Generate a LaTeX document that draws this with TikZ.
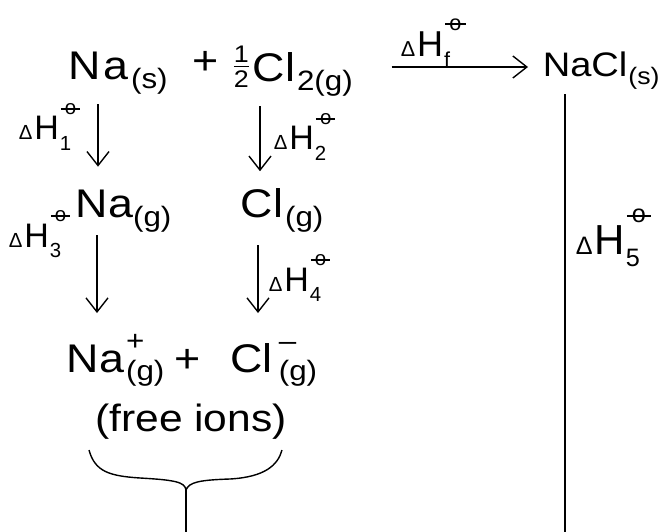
\documentclass[tikz,border=0pt]{standalone}
\usepackage{graphicx}
\usepackage{fontspec}
\setmainfont{Liberation Sans}[FakeStretch=1.12]
\newfontfamily\lbfont{Liberation Sans}
\usetikzlibrary{arrows.meta}
\newcommand\sbs[1]{\raisebox{-0.22em}{\scalebox{0.7}{#1}}}
\newcommand\lsub[1]{\raisebox{-0.3em}{\scalebox{0.6}{#1}}}
\newcommand\plim{\ooalign{\hfil o\hfil\cr\hfil\rule[0.25em]{0.95em}{0.07em}\hfil\cr}}
\newcommand\ssup[2]{\rlap{\raisebox{0.55em}{\scalebox{0.7}{#1}}}\sbs{#2}}
\newcommand\dH[1]{\scalebox{0.6}{Δ}\kern2pt H\kern1pt\rlap{\kern1pt\raisebox{0.74em}{\scalebox{0.6}{\plim}}}\lsub{#1}}
\newcommand\half{\raisebox{-0.14em}{\scalebox{0.6}{\shortstack{1\\[3pt]\rule{0.62em}{2.4pt}\\[3pt]2}}}}
\begin{document}
\begin{tikzpicture}[x=1pt,y=-1pt,line width=1.6pt,
  sp/.style={font=\fontsize{40}{48}\selectfont, inner sep=0pt},
  lb/.style={font=\lbfont\fontsize{34}{40}\selectfont, inner sep=0pt},
  arr/.style={-{Straight Barb[length=14pt,width=22pt,line width=1.4pt]}}]
\fill[white] (0,0) rectangle (667,532);
\useasboundingbox (0,0) rectangle (667,532);
% species
\node[sp,anchor=base west] (nas) at (68,80) {N\kern2pt a\kern3pt\sbs{(s)}};
\node[sp] (plus1) at (206,63) {+};
\node[sp,anchor=base west] (cl2) at (233,82) {\half\kern4pt Cl\kern2pt\sbs{2(g)}};
\node[sp,font=\fontsize{34}{40}\selectfont,anchor=base west] (nacl) at (542,77) {NaCl\kern1pt\sbs{(s)}};
\node[sp,anchor=base west] (nag) at (75,218) {Na\sbs{(g)}};
\node[sp,anchor=base west] (clg) at (240,218) {Cl\kern2pt\sbs{(g)}};
\node[sp,anchor=base west] (ions) at (66,372) {Na\kern2pt\ssup{+}{(g)}\hspace{10pt}+\hspace{30pt}Cl\kern6pt\ssup{–}{(g)}};
\node[sp,font=\fontsize{38}{44}\selectfont] (free) at (191,422) {(free ions)};
% labels
\node[lb,anchor=base west] (dh1) at (18,140) {\dH{1}};
\node[lb,anchor=base west] (dh2) at (273,150) {\dH{2}};
\node[lb,anchor=base west] (dh3) at (8,247) {\dH{3}};
\node[lb,anchor=base west] (dh4) at (268,291) {\dH{4}};
\node[lb,font=\lbfont\fontsize{36}{42}\selectfont,anchor=base west] (dhf) at (400,57) {\dH{f}};
\node[lb,font=\lbfont\fontsize{42}{48}\selectfont,anchor=base west] (dh5) at (575,254) {\dH{5}};
% helper coordinates
\coordinate (c1) at (98,0);
\coordinate (c2) at (260,0);
\coordinate (c3) at (97,0);
\coordinate (c4) at (258,0);
\coordinate (c5) at (565,0);
\coordinate (hy) at (0,67);
\coordinate (b1) at (186,532);
\coordinate (b2) at (565,532);
\coordinate (brtip) at (186,490);
% connectors
\draw[arr,shorten <=9pt,shorten >=23pt] (nas.south -| c1) -- (nag.north -| c1);
\draw[arr,shorten <=9pt,shorten >=17pt] (cl2.south -| c2) -- (clg.north -| c2);
\draw[arr,shorten <=2pt,shorten >=20pt] (nag.south -| c3) -- (ions.north -| c3);
\draw[arr,shorten <=12pt,shorten >=20pt] (clg.south -| c4) -- (ions.north -| c4);
\draw[arr,shorten <=38pt,shorten >=14pt] (cl2.east |- hy) -- (nacl.west |- hy);
\draw[shorten <=4pt] (nacl.south -| c5) -- (b2);
% brace
\draw[line width=1.4pt] (89,450) .. controls (95,472) and (110,476) .. (140,478)
  .. controls (175,480) and (185,482) .. (brtip)
  .. controls (189,482) and (200,480) .. (230,479)
  .. controls (265,477) and (278,465) .. (282,450);
\draw (brtip) -- (b1);
\end{tikzpicture}
\end{document}
